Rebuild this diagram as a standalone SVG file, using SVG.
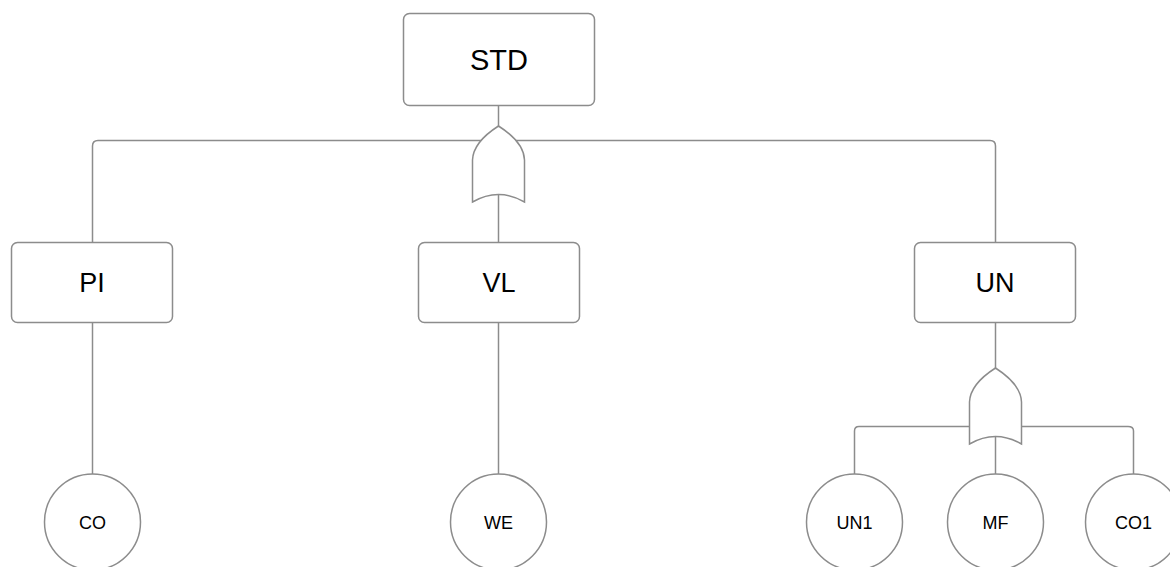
<svg xmlns="http://www.w3.org/2000/svg" width="1170" height="567" viewBox="0 0 1170 567">
<style>
.box{fill:#fff;stroke:#8c8c8c;stroke-width:1.5}
.ln{fill:none;stroke:#8c8c8c;stroke-width:1.5}
.gate{fill:#fff;stroke:#8c8c8c;stroke-width:1.5}
.t{font-family:"Liberation Sans",Arial,sans-serif;fill:#000;text-anchor:middle;dominant-baseline:central}
.big{font-size:27px}
.top{font-size:29px}
.sm{font-size:18px}
</style>
<rect width="1170" height="567" fill="#fff"/>
<g id="connectors">
<line class="ln" x1="498.5" y1="106" x2="498.5" y2="126"/>
<path class="ln" d="M92.5,242 V146 Q92.5,140.5 98,140.5 H990 Q995.5,140.5 995.5,146 V242"/>
<line class="ln" x1="498.5" y1="195" x2="498.5" y2="242"/>
<line class="ln" x1="92.5" y1="323" x2="92.5" y2="474"/>
<line class="ln" x1="498.5" y1="323" x2="498.5" y2="474"/>
<line class="ln" x1="995.5" y1="323" x2="995.5" y2="368"/>
<path class="ln" d="M854.5,474 V431 Q854.5,426.5 859,426.5 H1128 Q1133.5,426.5 1133.5,431 V474"/>
<line class="ln" x1="995.5" y1="437" x2="995.5" y2="474"/>
</g>
<g id="gate-or-1">
<path class="gate" d="M472.5,202 V160 C473,146 486,134 498.5,126 C511,134 524,146 524.5,160 V202 Q498.5,187 472.5,202 Z"/>
</g>
<g id="gate-or-2">
<path class="gate" d="M969.5,444 V402 C970,388 983,376 995.5,368 C1008,376 1021,388 1021.5,402 V444 Q995.5,429 969.5,444 Z"/>
</g>
<g id="STD">
<rect class="box" x="403.5" y="13.5" width="191" height="92" rx="6"/>
<text class="t top" x="499" y="60">STD</text>
</g>
<g id="PI">
<rect class="box" x="11.5" y="242.5" width="161" height="80" rx="6"/>
<text class="t big" x="92" y="283">PI</text>
</g>
<g id="VL">
<rect class="box" x="418.5" y="242.5" width="161" height="80" rx="6"/>
<text class="t big" x="499" y="283">VL</text>
</g>
<g id="UN">
<rect class="box" x="914.5" y="242.5" width="161" height="80" rx="6"/>
<text class="t big" x="995" y="283">UN</text>
</g>
<g id="CO">
<circle class="box" cx="92.5" cy="522" r="48"/>
<text class="t sm" x="92.5" y="523">CO</text>
</g>
<g id="WE">
<circle class="box" cx="498.5" cy="522" r="48"/>
<text class="t sm" x="498.5" y="523">WE</text>
</g>
<g id="UN1">
<circle class="box" cx="854.5" cy="522" r="48"/>
<text class="t sm" x="854.5" y="523">UN1</text>
</g>
<g id="MF">
<circle class="box" cx="995.5" cy="522" r="48"/>
<text class="t sm" x="995.5" y="523">MF</text>
</g>
<g id="CO1">
<circle class="box" cx="1133.5" cy="522" r="48"/>
<text class="t sm" x="1133.5" y="523">CO1</text>
</g>
</svg>
